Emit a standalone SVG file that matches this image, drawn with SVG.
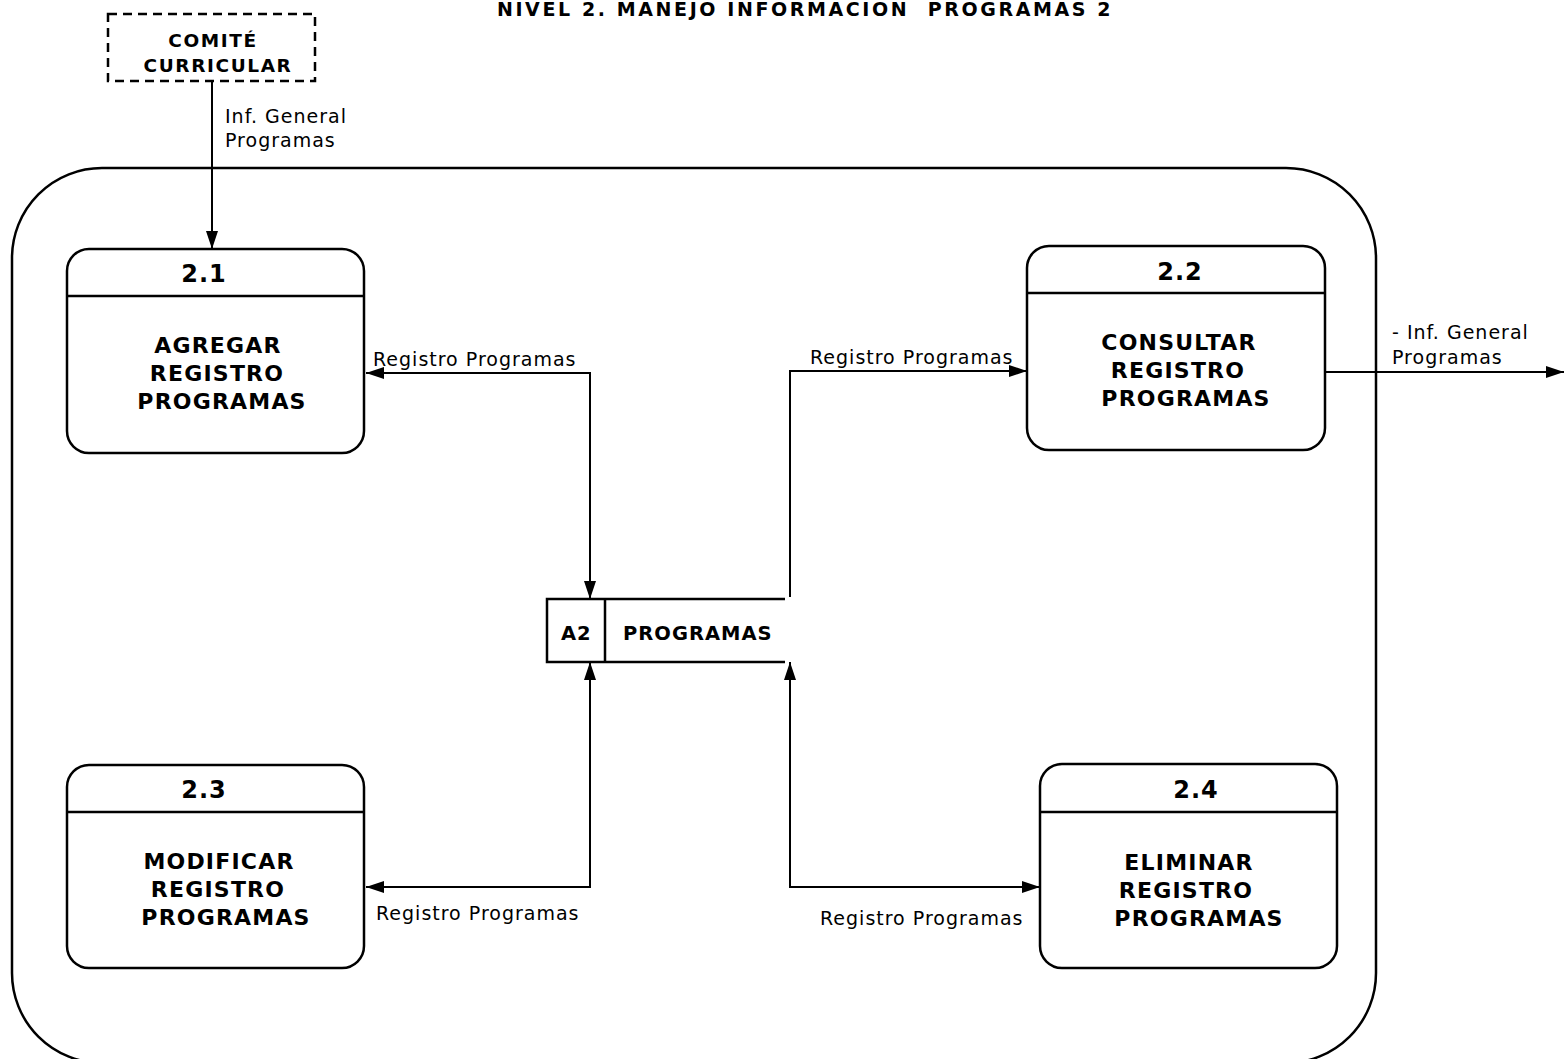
<svg xmlns="http://www.w3.org/2000/svg" width="1564" height="1059" viewBox="0 0 1564 1059">
<style>
  .box { fill: #fff; stroke: #000; stroke-width: 2.5; }
  .sep { stroke: #000; stroke-width: 2.5; fill: none; }
  .line { stroke: #000; stroke-width: 2; fill: none; }
  .num { font-family: "DejaVu Sans", Verdana, sans-serif; font-weight: bold; font-size: 24px; letter-spacing: 1px; text-anchor: middle; }
  .name { font-family: "DejaVu Sans", Verdana, sans-serif; font-weight: bold; font-size: 22px; letter-spacing: 1.2px; text-anchor: middle; }
  .lbl { font-family: "DejaVu Sans", Verdana, sans-serif; font-size: 19px; letter-spacing: 1px; }
  .ext { font-family: "DejaVu Sans", Verdana, sans-serif; font-weight: bold; font-size: 18.5px; letter-spacing: 1.6px; text-anchor: middle; }
  .store { font-family: "DejaVu Sans", Verdana, sans-serif; font-weight: bold; font-size: 19.5px; letter-spacing: 1px; }
  .title { font-family: "DejaVu Sans", Verdana, sans-serif; font-weight: bold; font-size: 19px; letter-spacing: 2.6px; text-anchor: middle; white-space: pre; }
</style>
<defs>
  <marker id="arr" markerUnits="userSpaceOnUse" markerWidth="18" markerHeight="12" refX="18" refY="6" orient="auto-start-reverse" viewBox="0 0 18 12">
    <path d="M0,0 L18,6 L0,12 z" fill="#000"/>
  </marker>
</defs>

<text class="title" x="805" y="15.5">NIVEL 2. MANEJO INFORMACION  PROGRAMAS 2</text>

<g id="boundary">
  <rect x="12" y="168" width="1364" height="895" rx="90" ry="90" fill="none" stroke="#000" stroke-width="2.5"/>
</g>

<g id="connectors">
  <path class="line" d="M212,81 V249" marker-end="url(#arr)"/>
  <path class="line" d="M366,373 H590 V599" marker-start="url(#arr)" marker-end="url(#arr)"/>
  <path class="line" d="M790,597 V371 H1027" marker-end="url(#arr)"/>
  <path class="line" d="M1326,372 H1564" marker-end="url(#arr)"/>
  <path class="line" d="M590,662 V887 H366" marker-start="url(#arr)" marker-end="url(#arr)"/>
  <path class="line" d="M790,662 V887 H1040" marker-start="url(#arr)" marker-end="url(#arr)"/>
  <text class="lbl" x="225" y="123">Inf. General</text>
  <text class="lbl" x="225" y="147">Programas</text>
  <text class="lbl" x="373" y="366">Registro Programas</text>
  <text class="lbl" x="810" y="364">Registro Programas</text>
  <text class="lbl" x="1392" y="339">- Inf. General</text>
  <text class="lbl" x="1392" y="364">Programas</text>
  <text class="lbl" x="376" y="920">Registro Programas</text>
  <text class="lbl" x="820" y="925">Registro Programas</text>
</g>

<g id="comite">
  <rect x="108" y="14" width="207" height="67" fill="#fff" stroke="#000" stroke-width="2.5" stroke-dasharray="9,6"/>
  <text class="ext" x="213" y="47">COMITÉ</text>
  <text class="ext" x="218" y="72">CURRICULAR</text>
</g>

<g id="p2_1">
  <rect class="box" x="67" y="249" width="297" height="204" rx="22" ry="22"/>
  <line class="sep" x1="67" y1="296" x2="364" y2="296"/>
  <text class="num" x="204" y="282">2.1</text>
  <text class="name" x="218" y="353">AGREGAR</text>
  <text class="name" x="217" y="381">REGISTRO</text>
  <text class="name" x="222" y="409">PROGRAMAS</text>
</g>

<g id="p2_2">
  <rect class="box" x="1027" y="246" width="298" height="204" rx="22" ry="22"/>
  <line class="sep" x1="1027" y1="293" x2="1325" y2="293"/>
  <text class="num" x="1180" y="280">2.2</text>
  <text class="name" x="1179" y="350">CONSULTAR</text>
  <text class="name" x="1178" y="378">REGISTRO</text>
  <text class="name" x="1186" y="406">PROGRAMAS</text>
</g>

<g id="p2_3">
  <rect class="box" x="67" y="765" width="297" height="203" rx="22" ry="22"/>
  <line class="sep" x1="67" y1="812" x2="364" y2="812"/>
  <text class="num" x="204" y="798">2.3</text>
  <text class="name" x="219" y="869">MODIFICAR</text>
  <text class="name" x="218" y="897">REGISTRO</text>
  <text class="name" x="226" y="925">PROGRAMAS</text>
</g>

<g id="p2_4">
  <rect class="box" x="1040" y="764" width="297" height="204" rx="22" ry="22"/>
  <line class="sep" x1="1040" y1="812" x2="1337" y2="812"/>
  <text class="num" x="1196" y="798">2.4</text>
  <text class="name" x="1189" y="870">ELIMINAR</text>
  <text class="name" x="1186" y="898">REGISTRO</text>
  <text class="name" x="1199" y="926">PROGRAMAS</text>
</g>

<g id="store_a2">
  <rect x="547" y="599" width="58" height="63" fill="#fff" stroke="none"/>
  <path class="sep" d="M785,599 H547 V662 H785 M605,599 V662"/>
  <text class="store" x="561" y="640">A2</text>
  <text class="store" x="623" y="640">PROGRAMAS</text>
</g>
</svg>
